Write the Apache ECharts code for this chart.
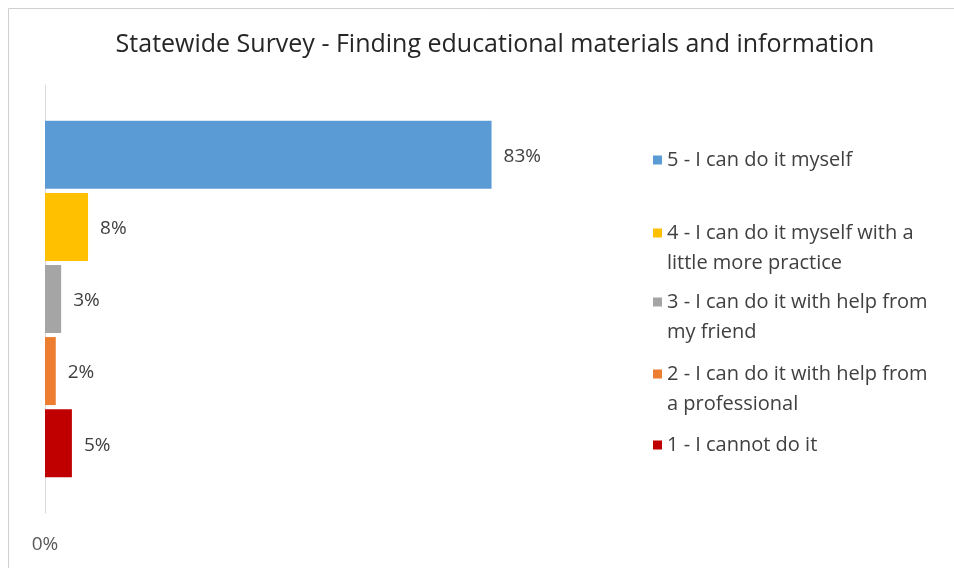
<!DOCTYPE html>
<html>
<head>
<meta charset="utf-8">
<script src="https://cdn.jsdelivr.net/npm/echarts@6/dist/echarts.min.js"></script>
<style>
  html, body { margin: 0; padding: 0; background: #fff; }
  #chart { width: 954px; height: 568px; }
</style>
</head>
<body>
<div id="chart"></div>
<script>
const CATEGORY = ['Finding educational materials and information'];
const SERIES_NAMES = [
  '5 - I can do it myself',
  '4 - I can do it myself with a little more practice',
  '3 - I can do it with help from my friend',
  '2 - I can do it with help from a professional',
  '1 - I cannot do it',
];
const LEGEND_LINES = [
  ['5 - I can do it myself'],
  ['4 - I can do it myself with a', 'little more practice'],
  ['3 - I can do it with help from', 'my friend'],
  ['2 - I can do it with help from', 'a professional'],
  ['1 - I cannot do it'],
];
const VALUES = [83, 8, 3, 2, 5];
const COLORS = ['#5B9BD5', '#FFC000', '#A5A5A5', '#ED7D31', '#C00000'];

const FONT = '"Open Sans", "Liberation Sans", sans-serif';
const TEXT = '#404040';

// legend icon centre (first line) for each entry
const LEGEND_Y = [155, 228, 297, 369, 440];

const chart = echarts.init(document.getElementById('chart'));

// wrapped entries get an empty first line so the icon sits on the first text line
const legends = SERIES_NAMES.map((name, i) => {
  const lines = LEGEND_LINES[i];
  const text = lines.length > 1 ? ['', ...lines] : lines;
  return {
    data: [name],
    left: 648,
    top: LEGEND_Y[i] - (text.length * 30) / 2,
    itemWidth: 9,
    itemHeight: 9,
    icon: 'rect',
    selectedMode: false,
    formatter: () => text.join('\n'),
    textStyle: {
      fontFamily: FONT,
      fontSize: 20,
      color: TEXT,
      lineHeight: 30,
    },
  };
});

chart.setOption({
  animation: false,
  textStyle: { fontFamily: FONT },
  title: {
    text: 'Statewide Survey - Finding educational materials and information',
    left: 490,
    textAlign: 'center',
    top: 27,
    textStyle: { fontFamily: FONT, fontSize: 25, fontWeight: 'normal', color: '#262626' },
  },
  graphic: [{
    type: 'rect',
    shape: { x: 8.5, y: 8.5, width: 980, height: 600 },
    style: { fill: 'none', stroke: '#d0d0d0', lineWidth: 1 },
    silent: true,
  }],
  legend: legends,
  grid: { left: 45, top: 85, bottom: 55, right: 371 },
  xAxis: {
    type: 'value',
    min: 0,
    max: 100,
    interval: 100,
    axisLine: { show: false },
    axisTick: { show: false },
    splitLine: { show: false },
    axisLabel: {
      formatter: v => (v === 0 ? '0%' : ''),
      color: '#595959',
      fontSize: 19,
      margin: 22,
    },
  },
  yAxis: {
    type: 'category',
    data: CATEGORY,
    inverse: true,
    axisLine: { show: true, lineStyle: { color: '#d9d9d9', width: 1 } },
    axisTick: { show: false },
    axisLabel: { show: false },
  },
  series: SERIES_NAMES.map((name, i) => ({
    name,
    type: 'bar',
    data: [VALUES[i]],
    barWidth: 68,
    barGap: '6%',
    itemStyle: { color: COLORS[i] },
    label: {
      show: true,
      position: 'right',
      distance: 12,
      offset: [0, 2],
      formatter: '{c}%',
      color: TEXT,
      fontSize: 19,
      fontFamily: FONT,
    },
  })),
});
</script>
</body>
</html>
